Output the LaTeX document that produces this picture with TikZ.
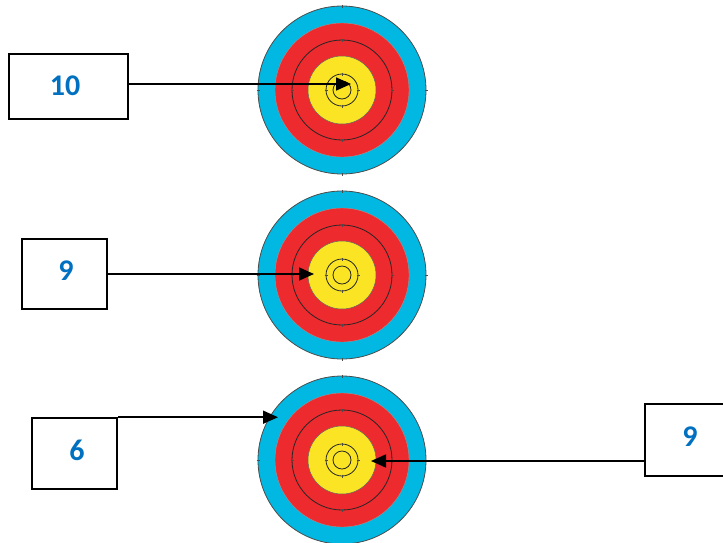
\documentclass[tikz,border=0pt]{standalone}
\usepackage{fontspec}
\setmainfont{Carlito}
\usetikzlibrary{arrows.meta,calc}
\definecolor{tblue}{RGB}{0,184,226}
\definecolor{tred}{RGB}{237,42,46}
\definecolor{tyellow}{RGB}{250,228,36}
\definecolor{numblue}{RGB}{0,112,192}
\tikzset{
  numbox/.style={draw=black, line width=1.6pt, fill=white},
  numtext/.style={font=\bfseries\fontsize{30}{30}\selectfont, text=numblue, inner sep=0pt},
  conn/.style={line width=1.7pt, -{Triangle[length=15pt,width=13pt]}},
  ringline/.style={draw=black!85, line width=0.8pt},
  tick/.style={black!70, line width=0.4pt},
}
\newcommand{\target}[3]{%
  \coordinate (#3) at (#1,#2);
  \fill[tblue] (#3) circle (84);
  \draw[draw=black!70, line width=0.8pt] (#3) circle (84);
  \fill[tred] (#3) circle (67);
  \draw[draw=black!40, line width=0.4pt] (#3) circle (67);
  \draw[ringline] (#3) circle (50);
  \fill[tyellow] (#3) circle (34);
  \draw[draw=black!60, line width=0.5pt] (#3) circle (34);
  \draw[ringline] (#3) circle (16);
  \draw[ringline] (#3) circle (9);
  \foreach \r in {84,50,16} {
    \draw[tick] ($(#3)+(0,\r-1.5)$) -- ++(0,3);
    \draw[tick] ($(#3)+(0,-\r-1.5)$) -- ++(0,3);
    \draw[tick] ($(#3)+(\r-1.5,0)$) -- ++(3,0);
    \draw[tick] ($(#3)+(-\r-1.5,0)$) -- ++(3,0);
  }
}
\begin{document}
\begin{tikzpicture}[x=1pt,y=-1pt]
\useasboundingbox (0,0) rectangle (723,542);
\target{342}{90}{tA}
\target{342}{275}{tB}
\target{342}{460}{tC}
% boxes
\node[numbox, minimum width=119pt, minimum height=65pt] (b10) at (68.5,86.5) {};
\node[numbox, minimum width=85pt, minimum height=70pt] (b9a) at (64.5,274) {};
\node[numbox, minimum width=85pt, minimum height=71pt] (b6) at (74.5,453.5) {};
\node[numbox, minimum width=100pt, minimum height=72pt, anchor=west] (b9b) at (644,440) {};
\node[numtext] (t10) at (65,86) {10};
\node[numtext] (t9a) at (66,271) {9};
\node[numtext] (t6) at (77,450) {6};
\node[numtext] (t9b) at (690,437) {9};
% tips
\coordinate (p10) at (351,84);
\coordinate (p9a) at (314,274);
\coordinate (p6) at (278,419);
\coordinate (p9b) at (371,461);
\draw[conn] (b10.east |- p10) -- (p10);
\draw[conn] (b9a.east |- p9a) -- (p9a);
\draw[conn] (b6.north east) -- (b6.north east -| p6);
\draw[conn] (b9b.west |- p9b) -- (p9b);
\end{tikzpicture}
\end{document}
